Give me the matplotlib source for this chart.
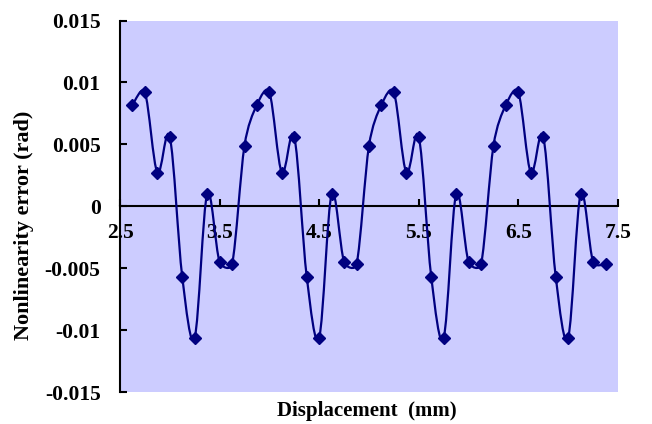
import numpy as np
import matplotlib
matplotlib.use("Agg")
import matplotlib.pyplot as plt
from matplotlib.path import Path
from matplotlib.patches import PathPatch

# ---- data ----
displacement = [2.625, 2.75, 2.875, 3.0, 3.125, 3.25, 3.375, 3.5, 3.625, 3.75,
                3.875, 4.0, 4.125, 4.25, 4.375, 4.5, 4.625, 4.75, 4.875, 5.0,
                5.125, 5.25, 5.375, 5.5, 5.625, 5.75, 5.875, 6.0, 6.125, 6.25,
                6.375, 6.5, 6.625, 6.75, 6.875, 7.0, 7.125, 7.25, 7.375]
error = [0.0082, 0.0092, 0.0027, 0.0056, -0.0057, -0.0106, 0.0010, -0.0045, -0.0047, 0.0049,
         0.0082, 0.0092, 0.0027, 0.0056, -0.0057, -0.0106, 0.0010, -0.0045, -0.0047, 0.0049,
         0.0082, 0.0092, 0.0027, 0.0056, -0.0057, -0.0106, 0.0010, -0.0045, -0.0047, 0.0049,
         0.0082, 0.0092, 0.0027, 0.0056, -0.0057, -0.0106, 0.0010, -0.0045, -0.0047]
x_ticks = [2.5, 3.5, 4.5, 5.5, 6.5, 7.5]
y_ticks = [-0.015, -0.01, -0.005, 0, 0.005, 0.01, 0.015]
y_tick_labels = ["-0.015", "-0.01", "-0.005", "0", "0.005", "0.01", "0.015"]
x_range = (2.5, 7.5)
y_range = (-0.015, 0.015)

plt.rcParams['font.family'] = ['Liberation Serif', 'DejaVu Serif']
plt.rcParams['font.weight'] = 'bold'

W, H = 652, 424
L, R, T, B = 120, 618, 20.5, 392
fig = plt.figure(figsize=(W/100, H/100), dpi=100)
ax = fig.add_axes([L/W, 1-B/H, (R-L)/W, (B-T)/H])
ax.set_facecolor('#CCCCFF')
ax.set_xlim(*x_range)
ax.set_ylim(*y_range)

# Excel-like smoothed line: Bezier segments computed in pixel space
sx = (R - L) / (x_range[1] - x_range[0])
sy = (B - T) / (y_range[1] - y_range[0])
P = np.column_stack([np.array(displacement) * sx, np.array(error) * sy])
n = len(P)
verts = [tuple(P[0])]
codes = [Path.MOVETO]
for i in range(n - 1):
    p0 = P[i - 1] if i > 0 else P[i]
    p1 = P[i]
    p2 = P[i + 1]
    p3 = P[i + 2] if i + 2 < n else P[i + 1]
    seg = np.linalg.norm(p2 - p1)
    t1 = (p2 - p0) / 6.0
    t2 = (p3 - p1) / 6.0
    for t in (t1, t2):
        nt = np.linalg.norm(t)
        if nt > seg / 2 and nt > 0:
            t *= (seg / 2) / nt
    c1 = p1 + t1
    c2 = p2 - t2
    verts += [tuple(c1), tuple(c2), tuple(p2)]
    codes += [Path.CURVE4] * 3
verts = np.array(verts)
verts[:, 0] /= sx
verts[:, 1] /= sy
patch = PathPatch(Path(verts, codes), facecolor='none', edgecolor='#000080', lw=1.6, zorder=3)
ax.add_patch(patch)
ax.plot(displacement, error, linestyle='none', marker='D', markersize=6.5,
        color='#000080', zorder=4)

# spines
for s in ['top', 'right']:
    ax.spines[s].set_visible(False)
ax.spines['left'].set_linewidth(1.5)
ax.spines['left'].set_color('black')
ax.spines['bottom'].set_position(('data', 0))
ax.spines['bottom'].set_linewidth(1.5)
ax.spines['bottom'].set_color('black')

ax.set_xticks(x_ticks)
ax.set_xticklabels([f"{v:g}" for v in x_ticks])
ax.set_yticks(y_ticks)
ax.set_yticklabels(y_tick_labels)
ax.tick_params(axis='y', direction='in', length=5, width=1.5, pad=14, labelsize=15.5)
ax.tick_params(axis='x', direction='in', length=5, width=1.5, pad=12, labelsize=15.5)

fig.text(24/W, 1-225/H, "Nonlinearity error (rad)", rotation=90, ha='center', va='center',
         fontsize=16, fontweight='bold')
fig.text(366.5/W, 1-411/H, "Displacement  (mm)", ha='center', va='center',
         fontsize=15, fontweight='bold')

fig.savefig("out.png", dpi=100, facecolor='white')
